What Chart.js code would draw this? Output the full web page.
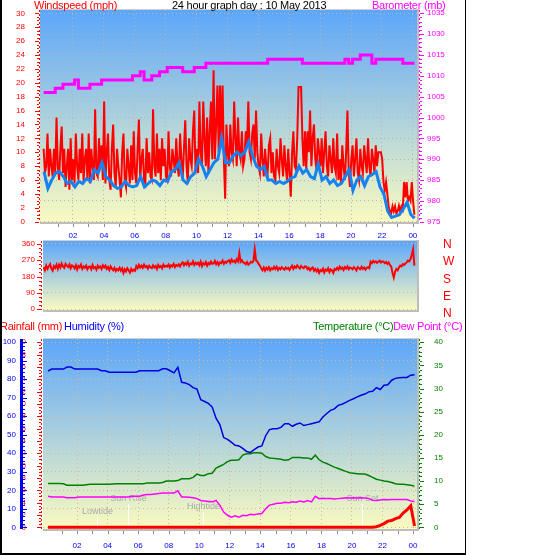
<!DOCTYPE html>
<html><head><meta charset="utf-8">
<script src="https://cdn.jsdelivr.net/npm/chart.js@4.4.0/dist/chart.umd.min.js"></script>
<style>
html,body{margin:0;padding:0;background:#fff;}
body{width:543px;height:555px;position:relative;overflow:hidden;font-family:"Liberation Sans",Arial,sans-serif;}
canvas{position:absolute;left:0;}
.t{position:absolute;font-size:11px;line-height:11px;white-space:nowrap;letter-spacing:-0.25px;}
#frame{position:absolute;left:0;top:0;width:463px;height:553px;border-left:2px solid #000;border-right:1px solid #000;border-bottom:2px solid #000;pointer-events:none;}
</style></head><body>
<canvas id="c1" width="543" height="240" style="top:0px"></canvas>
<canvas id="c2" width="543" height="82" style="top:238px"></canvas>
<canvas id="c3" width="543" height="237" style="top:318px"></canvas>
<div class="t" style="left:34px;top:0px;color:#ff0000">Windspeed (mph)</div>
<div class="t" style="left:172px;top:0px;color:#000">24 hour graph day : 10 May 2013</div>
<div class="t" style="left:372px;top:0px;color:#ff00ff">Barometer (mb)</div>
<div class="t" style="left:0px;top:321px;color:#ff0000">Rainfall (mm)</div>
<div class="t" style="left:64px;top:321px;color:#0000ff">Humidity (%)</div>
<div class="t" style="left:313px;top:321px;color:#008000">Temperature (°C)</div>
<div class="t" style="left:393px;top:321px;color:#ff00ff">Dew Point (°C)</div>
<div id="frame"></div>
<script>
// ---------- tick values and labels ----------
const hourTickValues = [2,4,6,8,10,12,14,16,18,20,22,24];
const hourLabels = ['02','04','06','08','10','12','14','16','18','20','22','00'];
const hourMarks = [1,2,3,4,5,6,7,8,9,10,11,12,13,14,15,16,17,18,19,20,21,22,23,24];
const windTicks = [0,2,4,6,8,10,12,14,16,18,20,22,24,26,28,30];
const baroTicks = [975,980,985,990,995,1000,1005,1010,1015,1020,1025];
const baroLabels = ['975','980','985','990','995','1000','1005','1010','1015','1030','1035'];
const dirTicks = [0,90,180,270,360];
const compassLabels = ['N','E','S','W','N'];
const humTicks = [0,10,20,30,40,50,60,70,80,90,100];
const rainTicks = [0,2,4,6,8,10,12,14,16,18,20,22,24,26,28,30];
const tempTicks = [0,5,10,15,20,25,30,35,40];
const eventNames = ['Lowtide','Sun Rise','Hightide','Sun Set'];
const eventTimes = [3.3, 5.35, 10.27, 20.68];

// ---------- sampling (hours) ----------
const GUST_START = 0.1, GUST_STEP = 1/12;      // 5-minute samples
const DIR_START = 0.1, DIR_STEP = 1/12;        // 5-minute samples
const AVG_START = 0.125, AVG_STEP = 0.25;      // 15-minute samples
const Q_START = 0.1, Q_STEP = 0.25;            // 15-minute samples

// ---------- series ----------
const windGust = [
10.5,7,8,12.7,6.5,10.5,8,6.5,10.5,7,15,8,
6,10.5,13.7,7,10.5,5,8,10.5,4.6,12,6,9,
5.5,12.7,8,6,10.5,7,12.7,5.8,9,10.5,6,12.7,
5.5,10.5,8,6,16.2,7,6.5,12,8,11,6,17.3,
5.5,10,12.7,6,4.6,10.5,14,7,5,10.5,8,6,
3.5,10,12.7,6,5,10.5,8,5.5,11,6,13,7,
5.5,10.5,14.7,6,9,10.5,6,5.5,12,7,10,6.5,
6,16.2,8,6.5,12.7,7,10.5,6,12,8,10.5,6.5,
6,13,8,6.5,10.5,9,7,12,8,6.5,12.7,9,
6,10.5,14.6,8,5.5,12,9,8,13,16,7,10.5,
7,17.3,10,8,17.3,12,8,15,7,13,17.3,9,
21.8,9,14,19.6,10,19.6,12,19.6,9,3.3,14,10,
8,14,10,9,17.3,12,8,15,10,9,13,8,
9,13,11,17.3,10,9,12.7,14,9,16,10,8,
7,12.7,9,6.5,10.5,8,7,11,12,7,10,6.5,
6,10.5,8,7,12,9,6.5,11,8,6,10.5,7,
3.6,10,13,8,7.5,12,19.4,19.4,19.4,12,8,13,
7.5,13,10,16,8,12,14,9,7.5,12,10,8,
12,7,10,13,8,6.5,11,9,7,12,8,7,
12.7,6,9,5.5,11,8,6,10,16,7,5,9,
11,6.5,9,12,7,6,10.5,8,7,11,9,7,
12,8,6.5,10.5,9,7,11,8,10,10,10,9,
5.7,4.5,5.7,4,2.2,1.5,1.2,2.2,1.5,2.2,1.2,1.5,
2.3,1.5,2.2,1.8,5.7,3.5,5.7,3,3.5,3,5.7,3,
1.0];

const windAvg = [
7.2,4.8,6.0,7.0, 7.2,6.5,5.5,5.8, 5.0,5.8,5.5,6.2, 5.8,7.5,7.0,8.5,
6.5,6.0,5.2,4.8, 5.0,5.8,5.2,5.0, 5.2,6.5,5.0,5.5, 6.0,5.8,5.2,6.0,
5.8,7.2,7.5,8.5, 6.0,5.5,6.5,7.0, 9.0,8.0,6.5,7.5, 8.5,9.0,12.0,8.5,
8.5,9.5,10.0,9.5, 10.0,11.5,9.5,8.0, 7.5,8.0,6.0,6.0, 5.5,5.8,5.5,5.8,
6.3,6.5,8.0,7.0, 7.5,6.5,6.2,8.3, 6.0,6.5,5.5,6.0, 5.2,5.5,6.5,7.5,
4.5,6.0,6.5,5.2, 6.5,6.8,7.2,5.0, 4.0,1.5,0.6,0.8, 1.0,1.8,2.8,1.0,
0.5];

const barometer = [
1006,1006,1006,1007,1007,1008,1008,1008,1009,1007,1007,1007,1008,1008,1008,
1009,1009,1009,1009,1009,1009,1009,1009,1010,1010,1011,1009,1009,1010,1010,
1011,1011,1012,1012,1012,1012,1011,1011,1011,1012,1012,1012,
1013,1013,1013,1013,1013,1013,1013,1013,1013,1013,1013,1013,1013,1013,1013,1013,
1014,1014,1014,1014,1014,1014,1014,1014,1014,
1013,1013,1013,1013,1013,1013,1013,1013,1013,1013,1013,
1014,1013,1014,1014,1015,1015,1015,1013,
1014,1014,1014,1014,1014,1014,1014,
1013,1013,1013,1013];

const windDir = [
232,215,240,222,236,248,225,212,238,228,245,222,
245,230,252,236,228,250,240,232,246,226,242,236,
225,242,218,238,230,246,222,236,228,240,220,234,
235,220,244,226,232,218,240,228,236,222,242,230,
240,222,232,216,236,224,215,228,210,222,214,228,
212,225,200,220,208,226,215,202,222,210,218,212,
238,226,244,230,240,228,246,232,238,224,240,230,
226,242,230,238,222,244,232,238,225,246,234,240,
235,246,230,242,236,250,232,244,238,248,236,250,
258,242,255,246,262,240,252,248,264,244,256,248,
256,242,262,238,254,246,260,240,255,248,262,250,
252,266,248,260,244,258,254,268,250,262,256,266,
270,256,274,262,268,258,276,264,310,262,270,258,
255,248,260,246,252,262,258,266,330,270,262,250,
240,226,215,230,212,228,218,232,214,226,220,234,
222,234,216,228,220,232,224,218,230,222,228,216,
230,240,222,236,228,242,232,224,238,230,226,236,
235,220,228,214,224,230,212,222,208,220,200,216,
210,224,202,218,212,226,205,220,214,200,222,216,
228,218,234,222,230,216,232,224,236,220,230,226,
220,232,224,214,232,226,220,234,222,230,218,228,
232,226,262,254,266,258,264,256,262,268,258,264,
262,254,260,250,258,244,236,200,174,206,222,215,
230,240,236,248,244,252,258,268,264,276,300,330,
240];

const humidity = [
84.5,85.5,85.5,85.5,85.5,86.6,86.6,85.5,85.5,85.5,85.5,85.5,85.5,85.5,84.6,84.6,
83.8,83.8,83.8,83.8,83.8,83.8,83.8,83.8,84.6,84.6,84.6,84.6,84.6,84.6,85.7,85.7,
84.6,83.5,86.5,78.4,78.0,77.1,75.5,74.7,69.0,68.0,67.0,65.0,59.0,55.5,48.5,47.5,
46.0,44.3,44.0,42.7,41.0,40.5,42.0,43.4,44.0,49.5,52.8,53.3,53.3,54.0,56.0,56.0,
54.6,55.7,56.4,55.0,55.5,56.0,56.5,57.0,59.6,61.5,63.2,64.0,65.9,66.5,67.5,68.6,
69.5,70.5,71.4,72.0,73.2,73.5,75.5,74.5,76.8,77.0,79.5,80.5,80.8,81.0,81.0,82.2,
82.5];

const temperature = [
9.45,9.45,9.45,9.45,9.4,9.1,9.1,9.1,9.1,9.1,9.2,9.3,9.3,9.3,9.3,9.3,
9.3,9.35,9.4,9.4,9.4,9.4,9.4,9.4,9.4,9.4,9.6,9.6,9.6,9.6,9.7,10.0,
10.0,10.0,10.1,10.5,10.5,10.5,10.8,11.5,11.2,11.2,11.6,11.7,12.8,13.2,13.6,14.2,
14.5,14.5,14.6,15.6,15.9,15.9,16.1,16.1,16.0,15.3,15.0,14.9,14.8,14.7,14.5,14.6,
15.1,15.1,15.1,15.0,15.0,14.7,15.6,14.6,14.1,13.8,13.4,13.0,12.7,12.4,12.1,11.8,
11.7,11.6,11.5,11.5,11.2,10.8,10.4,10.2,10.0,9.9,9.7,9.4,9.3,9.3,9.2,9.1,
8.9];

const dewPoint = [
6.7,6.56,6.56,6.56,6.56,6.41,6.41,6.41,6.56,6.56,6.56,6.56,6.56,6.56,6.56,6.56,
6.56,6.56,6.56,6.56,6.56,6.56,6.7,6.7,6.7,7.0,7.1,7.1,7.2,7.3,7.4,7.4,
7.4,7.4,7.9,6.56,6.56,6.5,6.4,6.2,5.8,5.7,5.6,5.5,5.8,4.8,3.3,2.6,
2.2,2.5,2.2,2.6,2.5,2.8,2.7,2.9,3.0,4.0,4.8,5.0,5.2,5.2,5.4,5.3,
5.5,5.4,5.7,5.5,5.8,5.5,6.7,6.2,6.3,6.2,6.2,6.1,6.2,6.3,6.4,6.35,
6.4,6.35,6.4,6.35,6.2,5.85,5.8,5.9,6.0,5.95,6.0,6.0,6.0,6.0,6.0,5.7,
5.6];

const rainfall = [
0,0,0,0,0,0,0,0,0,0,0,0,0,0,0,0,
0,0,0,0,0,0,0,0,0,0,0,0,0,0,0,0,
0,0,0,0,0,0,0,0,0,0,0,0,0,0,0,0,
0,0,0,0,0,0,0,0,0,0,0,0,0,0,0,0,
0,0,0,0,0,0,0,0,0,0,0,0,0,0,0,0,
0,0,0,0,0,0,0.1,0.3,0.6,1.0,1.1,1.4,1.6,2.3,2.8,3.5,
0.2];

// ---------- helpers ----------
function series(start, step, vals){ return vals.map((v,i)=>({x:start+i*step, y:v})); }
function fixW(w){ return s => { s.width = w; s.paddingTop = 0; s.paddingBottom = 0; s.paddingLeft = 0; s.paddingRight = 0; }; }
function fixH(h){ return s => { s.height = h; s.paddingTop = 0; s.paddingBottom = 0; s.paddingLeft = 0; s.paddingRight = 0; }; }
function setTicks(vals){ return s => { s.ticks = vals.map(v => ({value:v})); }; }

const FONT = '"Liberation Sans", Arial, sans-serif';
Chart.defaults.font.family = FONT;
Chart.defaults.font.size = 8;

const deco = {
  c1: { axes: [
      {id:'yW', x:39.5, dir:-1, color:'#ff0000', width:1, dash:[2,2], ticks:windTicks, majorLen:4, minor:0.5, minorLen:2},
      {id:'yB', x:419.5, dir:1, color:'#ff00ff', width:1, dash:[2,2], ticks:baroTicks, majorLen:4, minor:1, minorLen:2}],
      hours: hourMarks },
  c2: { axes: [
      {id:'yD', x:41.5, dir:-1, color:'#ff0000', width:1, dash:[2,2], ticks:dirTicks, majorLen:4, minor:22.5, minorLen:2}] },
  c3: { axes: [
      {id:'yH', x:21.5, dir:1, color:'#0000ee', width:3, dash:null, ticks:humTicks, majorLen:4, minor:2, minorLen:2},
      {id:'yR', x:41.5, dir:-1, color:'#ff0000', width:1, dash:[2,2], ticks:rainTicks, majorLen:4, minor:0.5, minorLen:2},
      {id:'yT', x:419.5, dir:1, color:'#008000', width:1, dash:[2,2], ticks:tempTicks, majorLen:4, minor:1, minorLen:2}],
      hours: hourMarks,
      events: {axis:'yH', heights:[10,23,15,23]} }
};

Chart.register({
  id:'deco',
  beforeDraw(chart){
    const a = chart.chartArea, c = chart.ctx;
    const g = c.createLinearGradient(0, a.top, 0, a.bottom);
    g.addColorStop(0, '#5ca6fa'); g.addColorStop(1, '#fafac0');
    c.save(); c.fillStyle = g; c.fillRect(a.left, a.top, a.right - a.left, a.bottom - a.top); c.restore();
  },
  beforeDatasetsDraw(chart){
    const o = deco[chart.canvas.id];
    if (!o || !o.events) return;
    const c = chart.ctx, xs = chart.scales.x, ys = chart.scales[o.events.axis];
    const base = ys.getPixelForValue(0);
    c.save();
    c.font = '9px ' + FONT; c.textAlign = 'center'; c.textBaseline = 'middle';
    eventNames.forEach((n, i) => {
      const x = Math.round(xs.getPixelForValue(eventTimes[i])) + 0.5;
      const top = base - o.events.heights[i];
      c.strokeStyle = 'rgba(255,255,255,0.95)'; c.lineWidth = 1;
      c.beginPath(); c.moveTo(x, top); c.lineTo(x, base); c.stroke();
      c.fillStyle = '#aaaaaa'; c.fillText(n, x, top - 6);
    });
    c.restore();
  },
  afterDraw(chart){
    const o = deco[chart.canvas.id];
    const a = chart.chartArea, c = chart.ctx;
    c.save();
    c.fillStyle = '#d0d0d0'; c.fillRect(a.left, a.top - 1, a.right - a.left, 1);
    c.fillStyle = '#bdbdbd';
    c.fillRect(a.right, a.top - 1, 2, a.bottom - a.top + 3);
    c.fillRect(a.left, a.bottom, a.right - a.left + 2, 2);
    if (o) {
      (o.axes || []).forEach(ax => {
        const s = chart.scales[ax.id];
        c.strokeStyle = ax.color; c.lineWidth = ax.width;
        c.setLineDash(ax.dash || []);
        c.beginPath(); c.moveTo(ax.x, a.top); c.lineTo(ax.x, a.bottom); c.stroke();
        c.setLineDash([]); c.lineWidth = 1;
        const x0 = ax.x + ax.dir * (ax.width / 2);
        const lo = ax.ticks[0], hi = ax.ticks[ax.ticks.length - 1];
        for (let v = lo; v <= hi + 1e-9; v += ax.minor) {
          const y = Math.round(s.getPixelForValue(v)) + 0.5;
          c.beginPath(); c.moveTo(x0, y); c.lineTo(x0 + ax.dir * ax.minorLen, y); c.stroke();
        }
        ax.ticks.forEach(v => {
          const y = Math.round(s.getPixelForValue(v)) + 0.5;
          c.beginPath(); c.moveTo(x0, y); c.lineTo(x0 + ax.dir * ax.majorLen, y); c.stroke();
        });
      });
      if (o.hours) {
        const xs = chart.scales.x;
        c.strokeStyle = '#8c8c8c'; c.lineWidth = 1;
        o.hours.forEach(h => {
          const x = Math.round(xs.getPixelForValue(h)) + 0.5;
          c.beginPath(); c.moveTo(x, a.bottom + 2); c.lineTo(x, a.bottom + 5); c.stroke();
        });
      }
    }
    c.restore();
  }
});

const common = {
  responsive:false, animation:false, devicePixelRatio:1, events:[],
  plugins:{legend:{display:false}, tooltip:{enabled:false}},
  elements:{point:{radius:0}, line:{tension:0}}
};
const dot1 = '#b4b4b4', dot2 = '#d2b896';

function xAxis(min, max, h, pad, dotColor){
  return {type:'linear', position:'bottom', min, max,
    afterBuildTicks:setTicks(hourTickValues), afterFit:fixH(h),
    ticks:{callback:(v,i)=>hourLabels[i], color:'#0000ee', padding:pad, autoSkip:false, maxRotation:0},
    grid:{color:dotColor, drawTicks:false}, border:{display:false, dash:[1,3]}};
}
function yAxis(pos, min, max, ticks, labels, w, pad, color, grid, extra, fontSize){
  return Object.assign({type:'linear', position:pos, min, max,
    afterBuildTicks:setTicks(ticks), afterFit:fixW(w),
    ticks:{callback:(v,i)=>labels[i], color, padding:pad, autoSkip:false, font:{size:fontSize || 8}},
    grid: grid ? {color:grid, drawTicks:false} : {display:false},
    border:{display:false, dash:[1,3]}}, extra || {});
}

// Panel 1: wind + barometer
new Chart(document.getElementById('c1'), {
  type:'line',
  data:{datasets:[
    {data:series(Q_START, Q_STEP, barometer), yAxisID:'yB', borderColor:'#ff00ff', borderWidth:3, stepped:true},
    {data:series(AVG_START, AVG_STEP, windAvg), yAxisID:'yW', borderColor:'#1482f0', borderWidth:3},
    {data:series(GUST_START, GUST_STEP, windGust), yAxisID:'yW', borderColor:'#ff0000', borderWidth:2}
  ]},
  options:Object.assign({}, common, {
    layout:{padding:{top:10, left:0, right:0, bottom:0}},
    scales:{
      x: xAxis(-0.136, 24.27, 18, 9, dot1),
      yW: yAxis('left', -0.043, 30.475, windTicks, windTicks.map(String), 40, 7, '#ff0000', null),
      yB: yAxis('right', 974.93, 1025.79, baroTicks, baroLabels, 126, 10, '#ff00ff', dot1)
    }
  })
});

// Panel 2: wind direction
new Chart(document.getElementById('c2'), {
  type:'line',
  data:{datasets:[
    {data:series(DIR_START, DIR_STEP, windDir), yAxisID:'yD', borderColor:'#ff0000', borderWidth:2}
  ]},
  options:Object.assign({}, common, {
    layout:{padding:{top:3, left:0, right:0, bottom:10}},
    scales:{
      x:{type:'linear', display:false, min:0.058, max:24.27},
      yD: yAxis('left', -5.5, 376.6, dirTicks, dirTicks.map(String), 43, 8, '#ff0000', dot2),
      yC: yAxis('right', 19.3, 379.3, dirTicks, compassLabels, 126, 18, '#ff0000', null, null, 12)
    }
  })
});

// Panel 3: rain, humidity, temperature, dew point
new Chart(document.getElementById('c3'), {
  type:'line',
  data:{datasets:[
    {data:series(Q_START, Q_STEP, rainfall), yAxisID:'yR', borderColor:'#ff0000', borderWidth:3},
    {data:series(Q_START, Q_STEP, humidity), yAxisID:'yH', borderColor:'#0000dd', borderWidth:1.5},
    {data:series(Q_START, Q_STEP, temperature), yAxisID:'yT', borderColor:'#008000', borderWidth:1.5},
    {data:series(Q_START, Q_STEP, dewPoint), yAxisID:'yT', borderColor:'#ff00ff', borderWidth:1.5}
  ]},
  options:Object.assign({}, common, {
    layout:{padding:{top:21, left:0, right:0, bottom:0}},
    scales:{
      x: xAxis(-0.229, 24.26, 26, 12, dot2),
      yH: yAxis('left', -0.92, 101.78, humTicks, humTicks.map(String), 22, 6, '#0000ee', dot2, {weight:2}),
      yR: yAxis('left', -0.276, 30.53, rainTicks, rainTicks.map(String), 21, 9, '#ff0000', null, {weight:1}),
      yT: yAxis('right', -0.368, 40.71, tempTicks, tempTicks.map(String), 126, 9, '#008000', null)
    }
  })
});
</script>
</body></html>
